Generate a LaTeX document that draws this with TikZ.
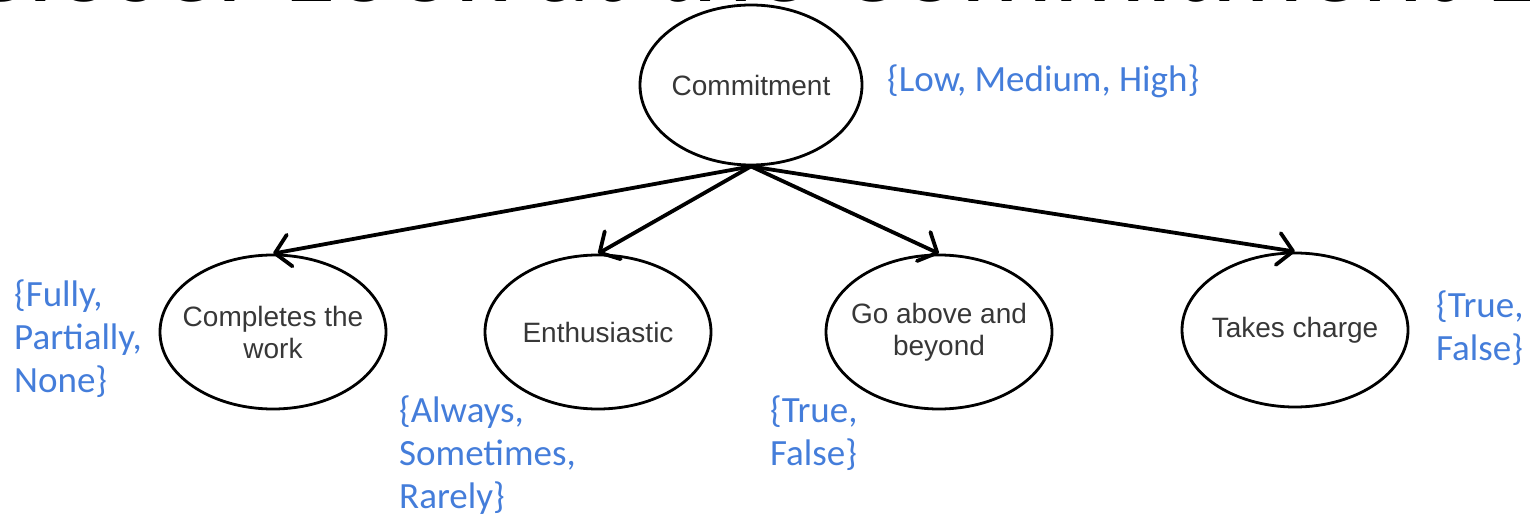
\documentclass[tikz,border=0pt]{standalone}
\usepackage{fontspec}
\setmainfont{Carlito}
\newfontfamily\nodefont{Liberation Sans}
\usetikzlibrary{shapes.geometric,arrows.meta}
\definecolor{valblue}{RGB}{68,125,218}
\definecolor{nodetext}{RGB}{55,55,55}

\begin{document}
\begin{tikzpicture}[x=1pt,y=-1pt,
  % negative inner sep lets the minimum size alone fix the ellipse
  var/.style={ellipse, draw, line width=2.8pt, minimum width=226pt,
    minimum height=154pt, inner sep=-40pt, text=nodetext, align=center,
    font=\nodefont\fontsize{28}{32}\selectfont},
  link/.style={line width=3.8pt, line cap=round,
    -{Straight Barb[length=15pt,width=32pt,round]}},
  states/.style={font=\fontsize{37}{43}\selectfont, text=valblue,
    align=left, inner sep=0pt, anchor=base west}
]
\useasboundingbox (0,0) rectangle (1530,518);

% slide heading, cut by the top edge
\node[anchor=base west, inner sep=0pt, font=\fontsize{116}{120}\selectfont]
  (title) at (-35,2) {Closer Look at the Commitment Level};

% variables
\node[var, minimum width=222pt, minimum height=160pt] (commit) at (751,85) {Commitment};
\node[var] (work)  at (273,332)  {Completes the\\work};
\node[var] (enth)  at (598,332)  {Enthusiastic};
\node[var] (above) at (939,332)  {Go above and\\beyond};
\node[var] (charge) at (1295,330) {Takes charge};

% edges
\draw[link] (commit.south) -- (work.north);
\draw[link] (commit.south) -- (enth.north);
\draw[link] (commit.south) -- (above.north);
\draw[link] (commit.south) -- (charge.north);

% value sets (a multi-line node sits on the baseline of its last line)
\node[states] (sCommit) at (887,92)   {\{Low, Medium, High\}};
\node[states] (sWork)   at (14,392)   {\{Fully,\\Partially,\\None\}};
\node[states] (sEnth)   at (399,508)  {\{Always,\\Sometimes,\\Rarely\}};
\node[states] (sAbove)  at (770,465)  {\{True,\\False\}};
\node[states] (sCharge) at (1436,360) {\{True,\\False\}};
\end{tikzpicture}
\end{document}
